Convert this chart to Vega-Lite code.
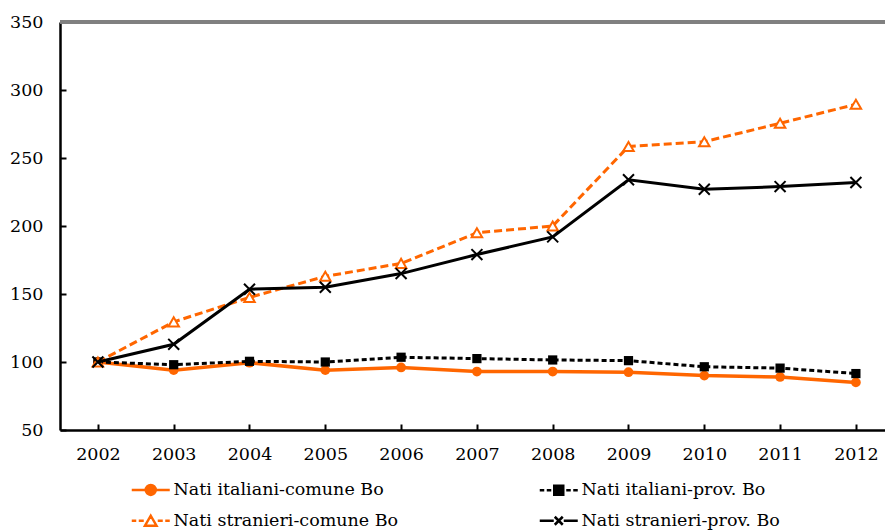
{
  "$schema": "https://vega.github.io/schema/vega-lite/v6.json",
  "width": 825,
  "height": 408,
  "autosize": {"type": "none"},
  "padding": {"left": 60, "top": 22, "right": 0, "bottom": 101},
  "background": "white",
  "config": {
    "view": {"stroke": null},
    "font": "DejaVu Serif",
    "axis": {
      "domainColor": "black",
      "domainWidth": 2.5,
      "tickColor": "black",
      "tickWidth": 2,
      "tickSize": -6,
      "labelFont": "DejaVu Serif",
      "labelFontSize": 17.5,
      "labelColor": "black",
      "grid": false,
      "title": null
    },
    "legend": {
      "labelFont": "DejaVu Serif",
      "labelFontSize": 17.5,
      "labelColor": "black",
      "labelLimit": 500,
      "symbolSize": 100,
      "symbolStrokeWidth": 2.5,
      "symbolOpacity": 1
    }
  },
  "data": {
    "values": [
      {"year": 2002, "series": "Nati italiani-comune Bo", "value": 100},
      {"year": 2003, "series": "Nati italiani-comune Bo", "value": 94},
      {"year": 2004, "series": "Nati italiani-comune Bo", "value": 99.5},
      {"year": 2005, "series": "Nati italiani-comune Bo", "value": 94},
      {"year": 2006, "series": "Nati italiani-comune Bo", "value": 96},
      {"year": 2007, "series": "Nati italiani-comune Bo", "value": 93},
      {"year": 2008, "series": "Nati italiani-comune Bo", "value": 93},
      {"year": 2009, "series": "Nati italiani-comune Bo", "value": 92.5},
      {"year": 2010, "series": "Nati italiani-comune Bo", "value": 90},
      {"year": 2011, "series": "Nati italiani-comune Bo", "value": 89},
      {"year": 2012, "series": "Nati italiani-comune Bo", "value": 85},
      {"year": 2002, "series": "Nati italiani-prov. Bo", "value": 100},
      {"year": 2003, "series": "Nati italiani-prov. Bo", "value": 98},
      {"year": 2004, "series": "Nati italiani-prov. Bo", "value": 100.5},
      {"year": 2005, "series": "Nati italiani-prov. Bo", "value": 100},
      {"year": 2006, "series": "Nati italiani-prov. Bo", "value": 103.5},
      {"year": 2007, "series": "Nati italiani-prov. Bo", "value": 102.5},
      {"year": 2008, "series": "Nati italiani-prov. Bo", "value": 101.5},
      {"year": 2009, "series": "Nati italiani-prov. Bo", "value": 101},
      {"year": 2010, "series": "Nati italiani-prov. Bo", "value": 96.5},
      {"year": 2011, "series": "Nati italiani-prov. Bo", "value": 95.5},
      {"year": 2012, "series": "Nati italiani-prov. Bo", "value": 91.5},
      {"year": 2002, "series": "Nati stranieri-comune Bo", "value": 100},
      {"year": 2003, "series": "Nati stranieri-comune Bo", "value": 129.5},
      {"year": 2004, "series": "Nati stranieri-comune Bo", "value": 147.5},
      {"year": 2005, "series": "Nati stranieri-comune Bo", "value": 163},
      {"year": 2006, "series": "Nati stranieri-comune Bo", "value": 172.5},
      {"year": 2007, "series": "Nati stranieri-comune Bo", "value": 195},
      {"year": 2008, "series": "Nati stranieri-comune Bo", "value": 200},
      {"year": 2009, "series": "Nati stranieri-comune Bo", "value": 258.5},
      {"year": 2010, "series": "Nati stranieri-comune Bo", "value": 262},
      {"year": 2011, "series": "Nati stranieri-comune Bo", "value": 275.5},
      {"year": 2012, "series": "Nati stranieri-comune Bo", "value": 289.5},
      {"year": 2002, "series": "Nati stranieri-prov. Bo", "value": 100},
      {"year": 2003, "series": "Nati stranieri-prov. Bo", "value": 113},
      {"year": 2004, "series": "Nati stranieri-prov. Bo", "value": 153.5},
      {"year": 2005, "series": "Nati stranieri-prov. Bo", "value": 155},
      {"year": 2006, "series": "Nati stranieri-prov. Bo", "value": 165},
      {"year": 2007, "series": "Nati stranieri-prov. Bo", "value": 179},
      {"year": 2008, "series": "Nati stranieri-prov. Bo", "value": 192},
      {"year": 2009, "series": "Nati stranieri-prov. Bo", "value": 234},
      {"year": 2010, "series": "Nati stranieri-prov. Bo", "value": 227},
      {"year": 2011, "series": "Nati stranieri-prov. Bo", "value": 229},
      {"year": 2012, "series": "Nati stranieri-prov. Bo", "value": 232}
    ]
  },
  "encoding": {
    "x": {
      "field": "year",
      "type": "quantitative",
      "scale": {"domain": [2001.5, 2012.384], "nice": false, "zero": false},
      "axis": {"values": [2002, 2003, 2004, 2005, 2006, 2007, 2008, 2009, 2010, 2011, 2012], "format": "d", "labelPadding": 21, "labelFlush": false, "labelOverlap": false}
    },
    "y": {
      "field": "value",
      "type": "quantitative",
      "scale": {"domain": [50, 350], "nice": false, "zero": false},
      "axis": {"values": [50, 100, 150, 200, 250, 300, 350], "labelPadding": 23}
    }
  },
  "layer": [
    {
      "mark": {"type": "rule", "color": "#808080", "strokeWidth": 2.5},
      "encoding": {"x": null, "y": {"datum": 350, "type": "quantitative"}}
    },
    {
      "transform": [{"filter": "datum.series === 'Nati italiani-comune Bo'"}],
      "layer": [
        {"mark": {"type": "line", "color": "#FF6600", "strokeWidth": 3.5}, "encoding": {}},
        {"mark": {"type": "point", "shape": "circle", "filled": true, "color": "#FF6600", "size": 95, "opacity": 1}}
      ]
    },
    {
      "transform": [{"filter": "datum.series === 'Nati italiani-prov. Bo'"}],
      "layer": [
        {"mark": {"type": "line", "color": "#000000", "strokeWidth": 3, "strokeDash": [5, 3]}, "encoding": {}},
        {"mark": {"type": "point", "shape": "square", "filled": true, "color": "#000000", "size": 85, "opacity": 1}}
      ]
    },
    {
      "transform": [{"filter": "datum.series === 'Nati stranieri-comune Bo'"}],
      "layer": [
        {"mark": {"type": "line", "color": "#FF6600", "strokeWidth": 3, "strokeDash": [8, 4]}, "encoding": {}},
        {"mark": {"type": "point", "shape": "triangle-up", "fill": "#ffffff", "stroke": "#FF6600", "strokeWidth": 2, "size": 110, "opacity": 1}}
      ]
    },
    {
      "transform": [{"filter": "datum.series === 'Nati stranieri-prov. Bo'"}],
      "layer": [
        {"mark": {"type": "line", "color": "#000000", "strokeWidth": 3}, "encoding": {}},
        {"mark": {"type": "point", "shape": "M-1,-1L1,1M-1,1L1,-1", "filled": false, "stroke": "#000000", "strokeWidth": 2, "size": 120, "opacity": 1}}
      ]
    },
    {
      "transform": [{"filter": "false"}],
      "mark": {"type": "point", "filled": true, "size": 100, "strokeWidth": 2.5, "opacity": 1},
      "encoding": {
        "shape": {
          "field": "series",
          "type": "nominal",
          "scale": {
            "domain": ["Nati italiani-comune Bo", "Nati stranieri-comune Bo", "Nati italiani-prov. Bo", "Nati stranieri-prov. Bo"],
            "range": [
              "M-3.8,0H3.8M-1,0A1,1 0 1,0 1,0A1,1 0 1,0 -1,0Z",
              "M-3.8,0H-2.9M-2.4,0H-1.4M1.4,0H2.4M2.9,0H3.8M0,-1L1.15,1H-1.15Z",
              "M-3.8,0H-2.9M-2.4,0H-1.5M1.5,0H2.4M2.9,0H3.8M-0.9,-0.9H0.9V0.9H-0.9Z",
              "M-3.8,0H-1M1,0H3.8M-0.8,-0.8L0.8,0.8M-0.8,0.8L0.8,-0.8"
            ]
          },
          "legend": {
            "title": null,
            "orient": "none",
            "legendX": 82,
            "legendY": 459,
            "columns": 2,
            "columnPadding": 135,
            "rowPadding": 10,
            "labelOffset": 14
          }
        },
        "stroke": {
          "field": "series",
          "type": "nominal",
          "scale": {"domain": ["Nati italiani-comune Bo", "Nati stranieri-comune Bo", "Nati italiani-prov. Bo", "Nati stranieri-prov. Bo"], "range": ["#FF6600", "#FF6600", "#000000", "#000000"]},
          "legend": {"title": null}
        },
        "fill": {
          "field": "series",
          "type": "nominal",
          "scale": {"domain": ["Nati italiani-comune Bo", "Nati stranieri-comune Bo", "Nati italiani-prov. Bo", "Nati stranieri-prov. Bo"], "range": ["#FF6600", "#ffffff", "#000000", "transparent"]},
          "legend": {"title": null}
        }
      }
    }
  ]
}
